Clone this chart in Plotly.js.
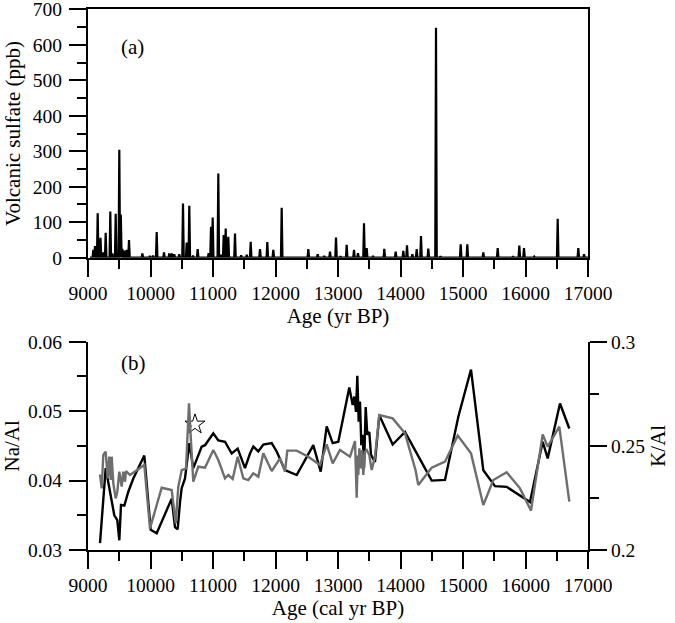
<!DOCTYPE html>
<html>
<head>
<meta charset="utf-8">
<script src="https://cdn.plot.ly/plotly-3.0.1.min.js"></script>
<style>html,body{margin:0;padding:0;background:#fff;}#chart{width:675px;height:623px;}</style>
</head>
<body>
<div id="chart"></div>
<script>
// Panel (a): volcanic sulfate events (age yr BP, ppb)
var spikeAge = [9085, 9112, 9155, 9200, 9240, 9283, 9357, 9390, 9443, 9501, 9525, 9550, 9590, 9620, 9656, 9870, 9990, 10040, 10099, 10216, 10300, 10340, 10380, 10460, 10520, 10579, 10621, 10680, 10755, 10930, 10968, 10995, 11085, 11130, 11171, 11203, 11245, 11352, 11450, 11540, 11603, 11752, 11869, 11965, 12099, 12400, 12525, 12675, 12780, 12872, 12968, 13040, 13139, 13256, 13320, 13416, 13459, 13560, 13741, 13923, 14045, 14104, 14190, 14259, 14328, 14445, 14568, 14640, 14963, 15069, 15325, 15555, 15800, 15901, 15976, 16140, 16515, 16845, 16936];
var spikeSulfate = [22, 33, 125, 56, 15, 70, 130, 12, 124, 304, 122, 25, 20, 22, 50, 12, 5, 6, 72, 15, 12, 12, 10, 10, 153, 43, 146, 6, 24, 13, 87, 113, 237, 8, 64, 82, 59, 68, 7, 8, 45, 24, 44, 22, 141, 2, 24, 10, 5, 17, 57, 4, 36, 22, 13, 97, 27, 5, 25, 17, 19, 35, 10, 24, 61, 26, 648, 4, 38, 38, 15, 27, 4, 34, 27, 3, 110, 27, 10];

// Panel (b): Na/Al (black, left axis)
var ageNa = [9192, 9283, 9352, 9421, 9469, 9501, 9528, 9581, 9645, 9725, 9901, 10003, 10099, 10339, 10392, 10435, 10472, 10499, 10552, 10621, 10685, 10819, 10872, 11005, 11085, 11192, 11299, 11395, 11512, 11592, 11645, 11725, 11805, 11939, 12019, 12152, 12339, 12605, 12723, 12819, 12915, 13005, 13181, 13235, 13261, 13288, 13309, 13331, 13352, 13373, 13395, 13416, 13443, 13469, 13501, 13528, 13592, 13661, 13875, 14072, 14232, 14499, 14712, 14925, 15128, 15325, 15512, 15699, 16072, 16275, 16355, 16552, 16701];
var naAl = [0.0310, 0.0418, 0.0384, 0.0350, 0.0343, 0.0314, 0.0365, 0.0364, 0.0384, 0.0403, 0.0436, 0.0329, 0.0324, 0.0374, 0.0333, 0.0330, 0.0369, 0.0389, 0.0403, 0.0454, 0.0418, 0.0449, 0.0451, 0.0468, 0.0458, 0.0456, 0.0439, 0.0446, 0.0418, 0.0439, 0.0449, 0.0442, 0.0452, 0.0454, 0.0442, 0.0415, 0.0408, 0.0451, 0.0413, 0.0478, 0.0454, 0.0456, 0.0534, 0.0509, 0.0521, 0.0499, 0.0551, 0.0485, 0.0514, 0.0451, 0.0466, 0.0418, 0.0506, 0.0466, 0.0470, 0.0437, 0.0427, 0.0494, 0.0452, 0.0470, 0.0444, 0.0400, 0.0401, 0.0492, 0.0560, 0.0415, 0.0392, 0.0391, 0.0369, 0.0456, 0.0432, 0.0511, 0.0475];

// Panel (b): K/Al (grey, right axis)
var ageK = [9192, 9219, 9245, 9283, 9315, 9341, 9363, 9379, 9405, 9443, 9469, 9501, 9539, 9565, 9592, 9608, 9672, 9901, 9992, 10179, 10339, 10403, 10445, 10499, 10568, 10616, 10648, 10685, 10765, 10872, 11005, 11085, 11192, 11245, 11315, 11395, 11485, 11565, 11645, 11725, 11805, 11939, 12072, 12152, 12189, 12339, 12525, 12712, 12819, 12915, 13032, 13192, 13272, 13299, 13317, 13325, 13341, 13363, 13384, 13405, 13432, 13459, 13501, 13539, 13592, 13661, 13875, 14072, 14240, 14285, 14499, 14712, 14915, 15128, 15325, 15485, 15699, 15912, 16088, 16275, 16355, 16541, 16701];
var kAl = [0.2363, 0.2296, 0.2456, 0.2472, 0.2344, 0.2448, 0.2336, 0.2448, 0.2320, 0.2248, 0.2280, 0.2376, 0.2304, 0.2376, 0.2328, 0.2379, 0.2360, 0.2408, 0.2104, 0.2299, 0.2288, 0.2128, 0.2304, 0.2384, 0.2392, 0.2704, 0.2520, 0.2328, 0.2400, 0.2395, 0.2480, 0.2432, 0.2344, 0.2360, 0.2341, 0.2448, 0.2344, 0.2336, 0.2368, 0.2352, 0.2464, 0.2379, 0.2440, 0.2376, 0.2477, 0.2477, 0.2448, 0.2408, 0.2507, 0.2416, 0.2480, 0.2448, 0.2523, 0.2251, 0.2454, 0.2360, 0.2488, 0.2392, 0.2480, 0.2360, 0.2472, 0.2480, 0.2456, 0.2384, 0.2448, 0.2648, 0.2632, 0.2560, 0.2384, 0.2312, 0.2395, 0.2424, 0.2549, 0.2464, 0.2216, 0.2336, 0.2373, 0.2296, 0.2189, 0.2555, 0.2496, 0.2592, 0.2232];

// Marker (star) position
var starAge = [10712];
var starNa = [0.0481];

// Build spike line from the event arrays
var sx = [9030], sy = [0];
for (var i = 0; i < spikeAge.length; i++) {
  sx.push(spikeAge[i] - 12, spikeAge[i], spikeAge[i] + 12);
  sy.push(0, spikeSulfate[i], 0);
}
sx.push(17000); sy.push(0);

var FONT = 'Liberation Serif, Times New Roman, serif';
var fs = 19.5;   // tick labels
var ft = 21;     // axis titles

var traces = [
  {x: sx, y: sy, xaxis: 'x', yaxis: 'y', type: 'scatter', mode: 'lines',
   line: {color: '#000', width: 2.2}, hoverinfo: 'skip'},
  {x: ageK, y: kAl, xaxis: 'x2', yaxis: 'y3', type: 'scatter', mode: 'lines',
   line: {color: '#6e6e6e', width: 2.4}},
  {x: ageNa, y: naAl, xaxis: 'x2', yaxis: 'y2', type: 'scatter', mode: 'lines',
   line: {color: '#000', width: 2.4}},
  {x: starAge, y: starNa, xaxis: 'x2', yaxis: 'y2', type: 'scatter', mode: 'markers',
   marker: {symbol: 'star-open', size: 15, color: '#000', line: {width: 1, color: '#000'}}}
];

var xd = [88/675, 588/675];
function axBase() {
  return {
    showline: true, linewidth: 2, linecolor: '#000',
    ticks: 'outside', ticklen: 17, tickwidth: 2, tickcolor: '#000',
    showgrid: false, zeroline: false, ticklabeloverflow: 'allow',
    tickfont: {family: FONT, size: fs, color: '#000'}
  };
}
function mnr(d) { return {dtick: d, ticklen: 9, tickwidth: 2, tickcolor: '#000', ticks: 'outside'}; }

var xa = Object.assign(axBase(), {
  domain: xd, anchor: 'y', range: [9000, 17000], tick0: 9000, dtick: 1000, tickformat: 'd',
  mirror: true, minor: mnr(500),
  title: {text: 'Age (yr BP)', font: {family: FONT, size: ft, color: '#000'}, standoff: 2}
});
var ya = Object.assign(axBase(), {
  domain: [1 - 257.7/623, 1 - 9.3/623], anchor: 'x', range: [0, 700.01], tick0: 0, dtick: 100,
  mirror: true, minor: mnr(50), ticklabelstandoff: 3,
  title: {text: 'Volcanic sulfate (ppb)', font: {family: FONT, size: ft, color: '#000'}, standoff: 6}
});
var xa2 = Object.assign(axBase(), {
  domain: xd, anchor: 'y2', range: [9000, 17000], tick0: 9000, dtick: 1000, tickformat: 'd',
  minor: mnr(500),
  title: {text: 'Age (cal yr BP)', font: {family: FONT, size: ft, color: '#000'}, standoff: 2}
});
var ya2 = Object.assign(axBase(), {
  domain: [1 - 550/623, 1 - 341.7/623], anchor: 'x2', range: [0.03, 0.06001], tick0: 0.03, dtick: 0.01, tickformat: '.2f',
  minor: mnr(0.005), ticklabelstandoff: 3,
  title: {text: 'Na/Al', font: {family: FONT, size: ft, color: '#000'}, standoff: 6}
});
var ya3 = Object.assign(axBase(), {
  overlaying: 'y2', side: 'right', anchor: 'x2', range: [0.2, 0.30001], tick0: 0.2, dtick: 0.05,
  minor: mnr(0.025),
  title: {text: 'K/Al', font: {family: FONT, size: ft, color: '#000'}, standoff: 6}
});

var layout = {
  width: 675, height: 623,
  margin: {l: 0, r: 0, t: 0, b: 0},
  paper_bgcolor: '#fff', plot_bgcolor: '#fff',
  showlegend: false, hovermode: false,
  font: {family: FONT, size: fs, color: '#000'},
  xaxis: xa, yaxis: ya, xaxis2: xa2, yaxis2: ya2, yaxis3: ya3,
  annotations: [
    {text: '(a)', xref: 'paper', yref: 'paper', x: 119/675, y: 1 - 33.5/623, showarrow: false,
     font: {family: FONT, size: ft, color: '#000'}},
    {text: '(b)', xref: 'paper', yref: 'paper', x: 119/675, y: 1 - 363/623, showarrow: false,
     font: {family: FONT, size: ft, color: '#000'}}
  ]
};

Plotly.newPlot('chart', traces, layout, {staticPlot: true, displayModeBar: false});
</script>
</body>
</html>
